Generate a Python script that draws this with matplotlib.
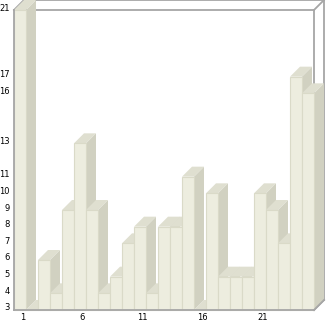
import matplotlib
matplotlib.use("Agg")
import matplotlib.pyplot as plt
import matplotlib.transforms as mtransforms
from matplotlib.patches import Polygon, Rectangle

# bar values
values = [21, 3, 6, 4, 9, 13, 9, 4, 5, 7, 8, 4, 8, 8, 11, 3, 10, 5, 5, 5, 10, 9, 7, 17, 16]
x_ticks = [1, 6, 11, 16, 21]
y_ticks = sorted(set(values))

front_col = "#EDEDDF"
top_col = "#DFDFD0"
side_col = "#D1D1C1"
sep_col = "#DADAC8"
frame_col = "#A6A6A6"

W, H = 326, 321
fig = plt.figure(figsize=(W / 100, H / 100), dpi=100)
ax = fig.add_axes([14 / W, 11 / H, 300 / W, 300 / H])
n = len(values)
ax.set_xlim(0.5, n + 0.5)
ax.set_ylim(3, 21)
for s in ax.spines.values():
    s.set_visible(False)

# depth of the 3d effect, 10 px each way
dx = 10 * n / 300
dy = 10 * 18 / 300
x0, x1 = 0.5, n + 0.5
y0, y1 = 3, 21

# back box
kw = dict(color=frame_col, lw=1.3, clip_on=False, zorder=1)
ax.plot([x0, x1], [y1, y1], **kw)
ax.plot([x1, x1], [y0, y1], **kw)
ax.plot([x0 + dx, x1 + dx], [y1 + dy, y1 + dy], **kw)
ax.plot([x1 + dx, x1 + dx], [y0 + dy, y1 + dy], **kw)
ax.plot([x0, x0 + dx], [y1, y1 + dy], **kw)
ax.plot([x1, x1 + dx], [y1, y1 + dy], **kw)
ax.plot([x1, x1 + dx], [y0, y0 + dy], **kw)

base = y0
for i, v in enumerate(values):
    a = i + 0.5
    b = i + 1.5
    z = 2 + i * 0.01
    ax.add_patch(Polygon([(b, base), (b, v), (b + dx, v + dy), (b + dx, base + dy)],
                         closed=True, fc=side_col, ec="none", clip_on=False, zorder=z))
    ax.add_patch(Polygon([(a, v), (b, v), (b + dx, v + dy), (a + dx, v + dy)],
                         closed=True, fc=top_col, ec="none", clip_on=False, zorder=z + 0.001))
    ax.add_patch(Rectangle((a, base), 1, v - base, fc=front_col, ec=sep_col,
                           lw=0.8, clip_on=False, zorder=z + 0.002))

# front axis lines on top
kw2 = dict(color=frame_col, lw=1.3, clip_on=False, zorder=5)
ax.plot([x0, x0], [y0, y1], **kw2)
ax.plot([x0, x1], [y0, y0], **kw2)
ax.plot([x1, x1 + dx], [y0, y0 + dy], **kw2)

ax.set_xticks(x_ticks)
ax.set_xticklabels([str(t) for t in x_ticks])
ax.set_yticks(y_ticks)
ax.set_yticklabels([str(t) for t in y_ticks])
ax.tick_params(length=0, labelsize=6, colors="black")
ax.tick_params(axis="y", pad=3)
ax.tick_params(axis="x", pad=2)

offy = mtransforms.ScaledTranslation(0, 3 / 100, fig.dpi_scale_trans)
for lab in ax.get_yticklabels():
    lab.set_transform(lab.get_transform() + offy)
offx = mtransforms.ScaledTranslation(2.5 / 100, 0, fig.dpi_scale_trans)
for lab in ax.get_xticklabels():
    lab.set_transform(lab.get_transform() + offx)

fig.savefig("out.png", dpi=100)
